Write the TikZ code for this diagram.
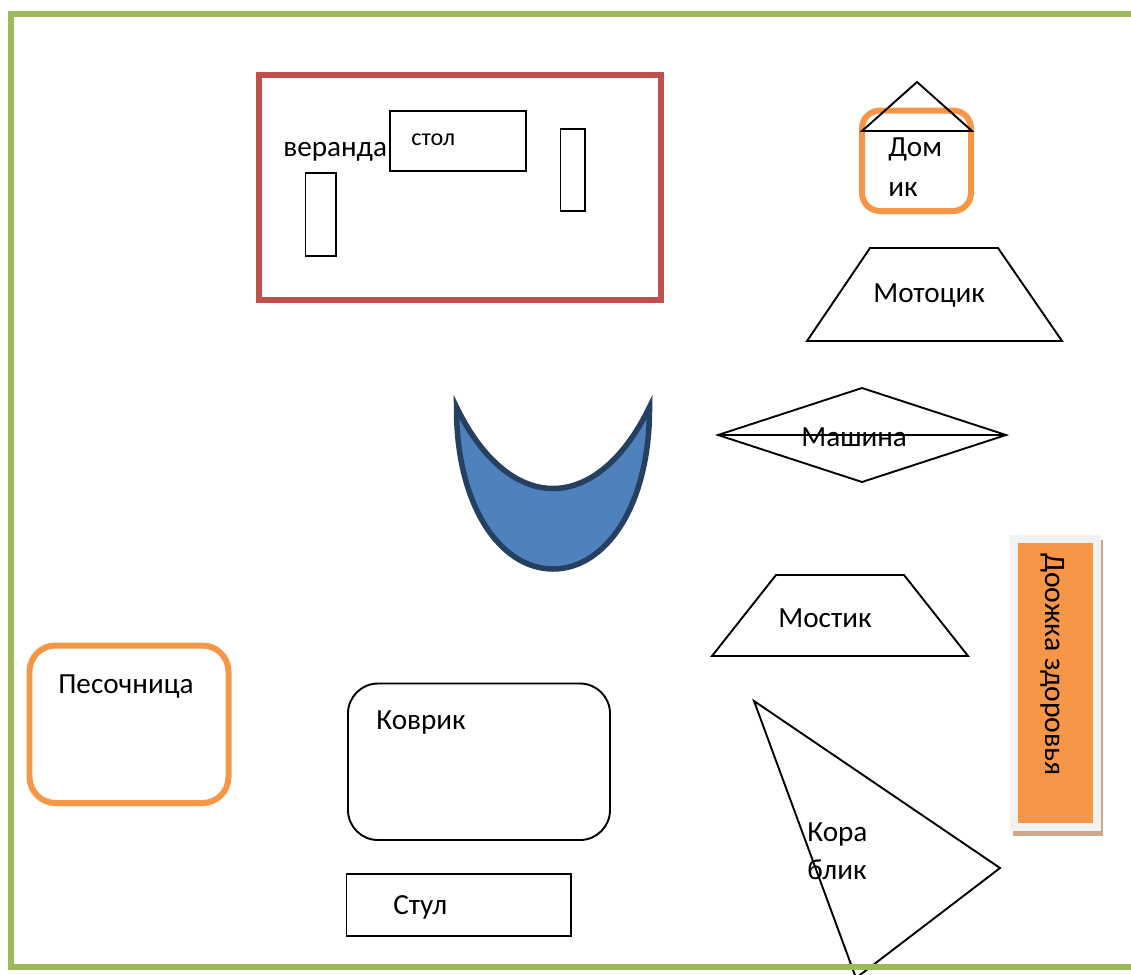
\documentclass[tikz,border=0pt]{standalone}
\usepackage{fontspec}
\setmainfont{Carlito}
\definecolor{framegreen}{HTML}{9BBB59}
\definecolor{verandared}{HTML}{C0504D}
\definecolor{toyorange}{HTML}{F79646}
\definecolor{moonblue}{HTML}{4F81BD}
\definecolor{moonedge}{HTML}{254061}
\definecolor{trackshadow}{HTML}{CFA688}
\definecolor{trackedge}{HTML}{F2F2F2}
\tikzset{
  thinshape/.style={draw=black, line width=1.9*0.569pt},
  orangebox/.style={draw=toyorange, line width=6*0.569pt, rounded corners=26*0.02cm},
  lbl/.style={anchor=base west, inner sep=0pt, font=\fontsize{16.6}{20}\selectfont},
}
\begin{document}
\begin{tikzpicture}[x=0.02cm, y=-0.02cm]
  \useasboundingbox (0, 0) rectangle (1131, 974);
  \clip (0, 0) rectangle (1131, 974);

  % veranda
  \draw[draw=verandared, line width=6*0.569pt] (258.5, 74.5) rectangle (660.5, 299.5);
  \draw[thinshape] (390, 111) rectangle (526, 171);
  \draw[thinshape] (560.5, 129) rectangle (585, 211);
  \draw[thinshape] (305.5, 173) rectangle (336, 256);
  \node[lbl] (veranda) at (283, 156) {веранда};
  \node[lbl, font=\fontsize{13.7}{16}\selectfont] (stol) at (411, 145) {стол};

  % domik
  \draw[orangebox, rounded corners=18*0.02cm] (862, 110.5) rectangle (971, 211);
  \draw[thinshape] (862, 131) -- (917, 82) -- (972, 131) -- cycle;
  \node[lbl] (domik) at (888, 156) {Дом};
  \node[lbl] (domiktail) at (888, 196) {ик};

  % trapezoids and diamond
  \draw[thinshape] (807, 341) -- (870, 248) -- (998, 248) -- (1062, 341) -- cycle;
  \node[lbl] (motocik) at (873, 302) {Мотоцик};

  \draw[thinshape] (718, 435) -- (862, 388) -- (1006, 435) -- (862, 482) -- cycle;
  \draw[thinshape] (718, 435) -- (1006, 435);
  \node[lbl] (mashina) at (801, 446) {Машина};

  \draw[thinshape] (712, 656) -- (776, 575) -- (904, 575) -- (968, 656) -- cycle;
  \node[lbl] (mostik) at (778, 627) {Мостик};

  % moon
  \draw[fill=moonblue, draw=moonedge, line width=5.5*0.569pt, miter limit=20]
    (456.5, 407) .. controls (456, 505) and (500, 569) .. (553, 569)
    .. controls (606, 569) and (650, 505) .. (649.5, 407)
    .. controls (625, 458) and (590, 488.5) .. (553, 488.5)
    .. controls (516, 488.5) and (481, 458) .. (456.5, 407) -- cycle;

  % health track
  \fill[trackshadow] (1013, 540) rectangle (1103, 836);
  \fill[trackedge] (1010, 535) rectangle (1101, 831);
  \fill[toyorange] (1018, 543) rectangle (1093, 823);
  \node[lbl, rotate=-90, font=\fontsize{16.9}{20}\selectfont] (track) at (1045, 553) {Доожка здоровья};

  % lower left
  \draw[orangebox] (29.5, 645.5) rectangle (228.5, 803);
  \node[lbl] (sandbox) at (58, 693) {Песочница};

  \draw[thinshape, rounded corners=30*0.02cm] (348, 683.5) rectangle (610, 840);
  \node[lbl] (rug) at (376, 729) {Коврик};

  \draw[thinshape] (346.5, 874) rectangle (571, 936);
  \node[lbl] (chair) at (393, 914) {Стул};

  % boat
  \draw[thinshape] (754, 701) -- (1000, 868) -- (856, 978) -- cycle;
  \node[lbl] (boat) at (807, 841) {Кора};
  \node[lbl] (boattail) at (807, 879) {блик};

  % frame
  \fill[framegreen] (8, 11) rectangle (1131, 17);
  \fill[framegreen] (8, 11) rectangle (14, 970);
  \fill[framegreen] (8, 964) rectangle (1131, 970);
\end{tikzpicture}
\end{document}
